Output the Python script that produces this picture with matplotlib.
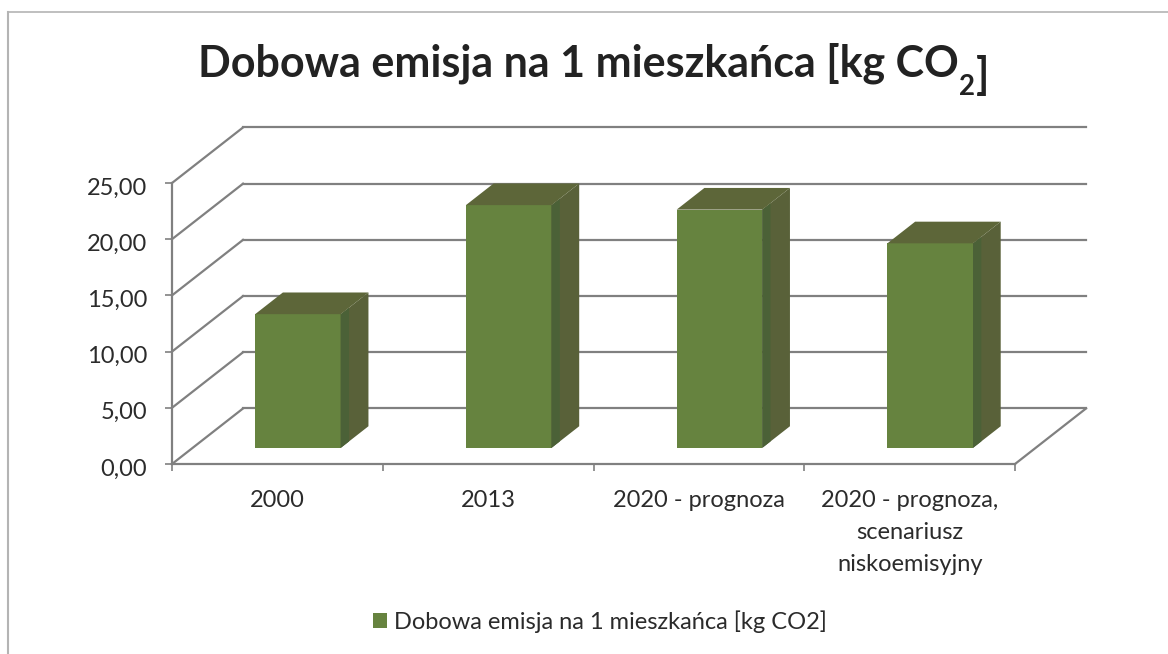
import matplotlib
matplotlib.use("Agg")
import matplotlib.pyplot as plt
from matplotlib.lines import Line2D
from matplotlib.ticker import FuncFormatter
from matplotlib.transforms import ScaledTranslation

categories = ["2000", "2013", "2020 - prognoza", "2020 - prognoza,\nscenariusz\nniskoemisyjny"]
values = [11.9, 21.6, 21.2, 18.2]
series_name = "Dobowa emisja na 1 mieszkańca [kg CO2]"
y_ticks = [0, 5, 10, 15, 20, 25]

FRONT = "#66833f"
SIDE = "#596139"
SIDE_NEAR = "#4b6137"
TOP = "#5d6639"
GRID = "#808080"
TEXT = "#2b2b2b"

# depth of the fake 3d box, in data units
DX = 0.337
DY = 4.94
# bar sits between these fractions of the depth
D0 = 0.29
D1 = 0.68
BAR_W = 0.406

plt.rcParams["font.family"] = ["Lato", "DejaVu Sans"]

W, H = 1168, 654
fig = plt.figure(figsize=(W / 100, H / 100), dpi=100, facecolor="white")
ax = fig.add_axes([172 / W, 1 - 464 / H, (1015 - 172) / W, (464 - 183) / H])
ax.set_xlim(0, 4)
ax.set_ylim(0, 25)
ax.patch.set_visible(False)

# walls
for v in y_ticks:
    ax.plot([0, DX], [v, v + DY], color=GRID, lw=1.6, clip_on=False, zorder=1)
    ax.plot([DX, 4 + DX], [v + DY, v + DY], color=GRID, lw=1.6, clip_on=False, zorder=1)
ax.plot([4, 4 + DX], [0, DY], color=GRID, lw=1.6, clip_on=False, zorder=1)

# bars
xs = [i + 0.5 for i in range(len(values))]
x0 = DX * D0
y0 = DY * D0
sx = DX * (D1 - D0)
sy = DY * (D1 - D0)
bars = ax.bar([x + x0 for x in xs], values, width=BAR_W, bottom=y0, color=FRONT,
              label=series_name, clip_on=False, zorder=3)
for x, v in zip(xs, values):
    l = x + x0 - BAR_W / 2
    r = x + x0 + BAR_W / 2
    b = y0
    t = y0 + v
    ax.fill([r, r + sx, r + sx, r], [b, b + sy, t + sy, t], color=SIDE, lw=0, clip_on=False, zorder=3)
    # greener strip next to the front edge of the side face
    k = 0.3
    ax.fill([r, r + sx * k, r + sx * k, r], [b, b + sy * k, t + sy * k, t], color=SIDE_NEAR, lw=0,
            clip_on=False, zorder=3)
    ax.fill([l, l + sx, r + sx, r], [t, t + sy, t + sy, t], color=TOP, lw=0, clip_on=False, zorder=3)

for s in ["top", "right"]:
    ax.spines[s].set_visible(False)
for s in ["left", "bottom"]:
    ax.spines[s].set_color(GRID)
    ax.spines[s].set_linewidth(1.6)

ax.set_yticks(y_ticks)
ax.yaxis.set_major_formatter(FuncFormatter(lambda v, p: f"{v:.2f}".replace(".", ",")))
ax.set_xticks(range(5))
ax.set_xticklabels([])
ax.set_xticks(xs, minor=True)
ax.set_xticklabels(categories, minor=True, linespacing=1.63, va="top")
ax.tick_params(axis="both", which="major", length=5, width=1.2, color=GRID, labelsize=17, labelcolor=TEXT)
ax.tick_params(axis="y", pad=13)
ax.tick_params(axis="x", which="minor", length=0, pad=19, labelsize=17, labelcolor=TEXT)

# y labels sit a bit lower than the ticks in the original
shift = ScaledTranslation(0, -3 / 100, fig.dpi_scale_trans)
for lab in ax.get_yticklabels():
    lab.set_transform(lab.get_transform() + shift)

# title with subscript
TITLE_C = "#222222"
t1 = fig.text(198 / W, 1 - 76 / H, "Dobowa emisja na 1 mieszkańca [kg CO", fontsize=31,
              fontweight="bold", color=TITLE_C, va="baseline")
t2 = ax.annotate("2", xy=(1, 0), xycoords=t1, xytext=(0, -8), textcoords="offset points",
                 fontsize=20, fontweight="bold", color=TITLE_C, va="baseline")
ax.annotate("]", xy=(1, 0), xycoords=t2, xytext=(1, 8), textcoords="offset points",
            fontsize=31, fontweight="bold", color=TITLE_C, va="baseline")

ax.legend(handles=[bars], loc="center", bbox_to_anchor=(600 / W, 1 - 622 / H),
          bbox_transform=fig.transFigure, frameon=False, fontsize=17, labelcolor=TEXT,
          handlelength=0.6, handleheight=0.6, handletextpad=0.3)

# scanned frame
frame = "#b4b4b4"
fig.add_artist(Line2D([8 / W, 8 / W], [1 - 12 / H, 0], color=frame, lw=1.5))
fig.add_artist(Line2D([8 / W, 1], [1 - 12 / H, 1 - 12 / H], color=frame, lw=1.2))

fig.savefig("out.png", dpi=100)
